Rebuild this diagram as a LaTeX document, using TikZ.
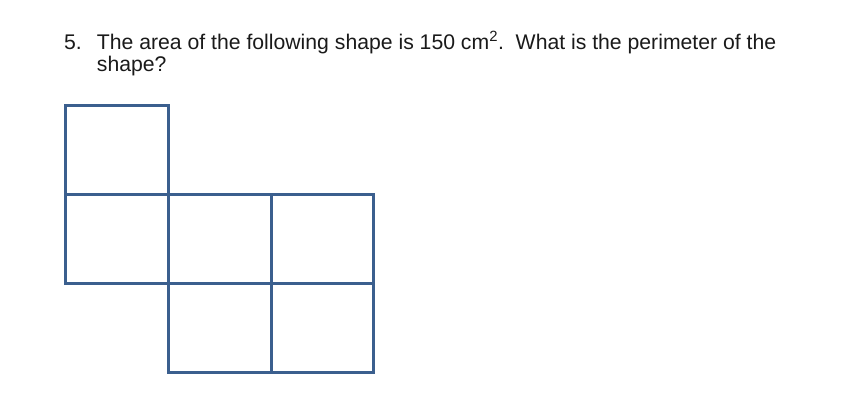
\documentclass[tikz,border=0pt]{standalone}
\usepackage{fontspec}
\setmainfont{Liberation Sans}
\definecolor{gridblue}{HTML}{3B5F8E}
\definecolor{txt}{HTML}{1A1A1A}
\begin{document}
\begin{tikzpicture}[x=1pt,y=-1pt,
  cell/.style={draw=gridblue,line width=3pt,line join=miter},
  qtext/.style={inner sep=0pt,anchor=base west,text=txt,font=\fontsize{21.2pt}{24pt}\selectfont}]
\useasboundingbox[fill=white] (0,0) rectangle (868,407);
\node[qtext] (num) at (64,49.3) {5.};
\node[qtext] (l1) at (96.7,49.3) {The area of the following shape is 150 cm\textsuperscript{2}.\ \ What is the perimeter of the};
\node[qtext] (l2) at (96.7,71.7) {shape?};
% columns x: 65,168,271,373 ; rows y: 105,194,283,372
\draw[cell] (65,105) rectangle (168,194);
\draw[cell] (65,194) rectangle (168,283);
\draw[cell] (168,194) rectangle (271,283);
\draw[cell] (271,194) rectangle (373,283);
\draw[cell] (168,283) rectangle (271,372);
\draw[cell] (271,283) rectangle (373,372);
\end{tikzpicture}
\end{document}
